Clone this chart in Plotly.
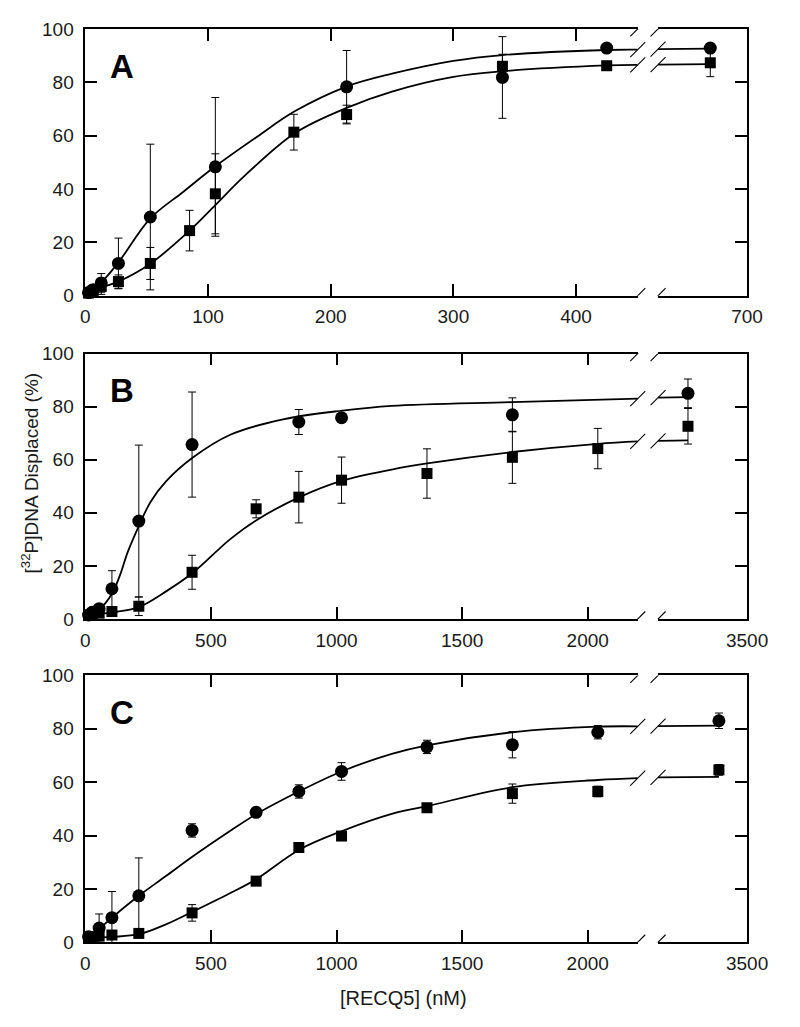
import plotly.graph_objects as go

# ---------------- DATA ----------------
# Panel A
a_circ_x = [2.6, 6.5, 13, 27, 53, 106, 213, 340, 425]
a_circ_y = [1.2, 2.2, 4.8, 12.1, 29.5, 48.3, 78.3, 81.8, 92.8]
a_circ_e = [1.0, 2.0, 3.5, 9.5, 27.3, 26.0, 13.6, 15.3, 0.0]
a_circ_rx = [670]
a_circ_ry = [92.8]
a_circ_re = [0.0]
a_sq_x = [2.6, 6.5, 13, 27, 53, 85, 106, 170, 213, 340, 425]
a_sq_y = [1.0, 2.0, 3.5, 5.3, 12.1, 24.4, 38.2, 61.3, 67.9, 86.0, 86.2]
a_sq_e = [1.0, 1.5, 3.0, 2.5, 6.0, 7.6, 15.0, 6.7, 3.5, 4.5, 0.0]
a_sq_rx = [670]
a_sq_ry = [87.3]
a_sq_re = [5.2]
a_circ_fit_x = [0, 13, 27, 53, 80, 106, 140, 171, 213, 250, 300, 340, 425, 450]
a_circ_fit_y = [0.5, 5.0, 12.5, 29.0, 39.0, 48.5, 59.6, 69.2, 78.4, 83.2, 88.0, 90.2, 92.1, 92.2]
a_circ_fit_rx = [627.4, 670]
a_circ_fit_ry = [92.4, 92.6]
a_sq_fit_x = [0, 13, 27, 53, 85, 106, 130, 171, 213, 250, 300, 340, 425, 450]
a_sq_fit_y = [0.5, 3.0, 5.3, 12.0, 24.4, 34.0, 45.0, 61.0, 70.4, 76.5, 82.0, 84.1, 86.3, 86.5]
a_sq_fit_rx = [627.4, 670]
a_sq_fit_ry = [86.6, 86.8]

# Panel B
b_circ_x = [13, 27, 55, 106, 213, 425, 850, 1020, 1700]
b_circ_y = [1.5, 2.5, 3.9, 11.4, 36.9, 65.7, 74.2, 75.8, 76.9]
b_circ_e = [0.5, 1.0, 1.5, 6.8, 28.6, 19.8, 4.7, 0.0, 6.4]
b_circ_rx = [3265]
b_circ_ry = [85.0]
b_circ_re = [5.4]
b_sq_x = [13, 27, 55, 106, 213, 425, 680, 850, 1020, 1360, 1700, 2040]
b_sq_y = [1.5, 1.8, 2.2, 2.8, 4.8, 17.6, 41.5, 45.9, 52.3, 54.8, 60.9, 64.2]
b_sq_e = [0.5, 0.5, 1.0, 1.0, 3.5, 6.4, 3.4, 9.7, 8.7, 9.3, 9.8, 7.6]
b_sq_rx = [3265]
b_sq_ry = [72.6]
b_sq_re = [6.7]
b_circ_fit_x = [0, 27, 55, 106, 140, 168, 213, 259, 323, 428, 577, 787, 1023, 1220, 1700, 2199]
b_circ_fit_y = [1.2, 2.0, 3.5, 9.5, 17.0, 25.0, 35.0, 44.0, 52.0, 60.8, 69.4, 75.2, 78.5, 80.3, 81.7, 83.0]
b_circ_fit_rx = [3146, 3265]
b_circ_fit_ry = [83.4, 83.6]
b_sq_fit_x = [0, 106, 213, 323, 428, 577, 686, 853, 1023, 1220, 1361, 1700, 2040, 2199]
b_sq_fit_y = [1.5, 2.5, 4.5, 10.5, 17.4, 30.1, 37.5, 45.9, 52.1, 56.3, 58.6, 62.9, 66.0, 66.9]
b_sq_fit_rx = [3146, 3265]
b_sq_fit_ry = [67.1, 67.3]

# Panel C
c_circ_x = [13, 27, 55, 106, 213, 425, 680, 850, 1020, 1360, 1700, 2040]
c_circ_y = [2.1, 1.8, 5.3, 9.2, 17.4, 41.9, 48.7, 56.5, 64.0, 73.2, 74.0, 78.7]
c_circ_e = [0.5, 0.5, 5.3, 9.8, 14.2, 2.5, 1.2, 2.5, 3.3, 2.5, 4.9, 2.5]
c_circ_rx = [3388]
c_circ_ry = [83.0]
c_circ_re = [2.9]
c_sq_x = [13, 27, 55, 106, 213, 425, 680, 850, 1020, 1360, 1700, 2040]
c_sq_y = [1.8, 1.5, 2.3, 2.7, 3.3, 11.0, 22.9, 35.5, 39.8, 50.4, 55.7, 56.5]
c_sq_e = [0.5, 0.5, 0.5, 0.5, 0.8, 3.1, 1.0, 1.0, 1.0, 1.0, 3.6, 2.0]
c_sq_rx = [3388]
c_sq_ry = [64.6]
c_sq_re = [2.0]
c_circ_fit_x = [0, 27, 55, 106, 213, 321, 430, 570, 680, 850, 1020, 1220, 1360, 1700, 2040, 2199]
c_circ_fit_y = [1.5, 3.0, 5.0, 9.2, 17.4, 24.8, 32.3, 41.3, 48.0, 56.5, 64.0, 70.6, 73.8, 78.7, 80.8, 80.9]
c_circ_fit_rx = [3146, 3388]
c_circ_fit_ry = [81.0, 81.2]
c_sq_fit_x = [0, 106, 213, 321, 430, 570, 680, 850, 1020, 1220, 1360, 1700, 2040, 2199]
c_sq_fit_y = [1.5, 2.0, 3.0, 6.7, 11.6, 18.1, 23.6, 34.6, 41.6, 48.1, 51.0, 58.1, 60.8, 61.5]
c_sq_fit_rx = [3146, 3388]
c_sq_fit_ry = [61.8, 62.0]

# Tick labels
a_ticks_left = [0, 100, 200, 300, 400]
a_ticks_right = [700]
bc_ticks_left = [0, 500, 1000, 1500, 2000]
bc_ticks_right = [3500]
y_ticks = [0, 20, 40, 60, 80, 100]
panel_labels = ["A", "B", "C"]
x_title = "[RECQ5] (nM)"
y_title = "[<sup>32</sup>P]DNA Displaced (%)"

# ---------------- LAYOUT GEOMETRY ----------------
W, H = 800, 1027
LEFT_PX, BREAK1_PX, BREAK2_PX, RIGHT_PX = 83, 654, 675, 767
panel_px = [(19.3, 291.7), (350.7, 621.7), (679.3, 951.7)]
ranges_left = [[0, 450.3], [0, 2199], [0, 2199]]
ranges_right = [[627.4, 700.001], [3146, 3500.01], [3146, 3500.01]]

FONT = "Liberation Sans, Arial, Helvetica, sans-serif"
TXT = "#1a1a1a"

fig = go.Figure()

panels = [
    dict(circ=(a_circ_x, a_circ_y, a_circ_e), circ_r=(a_circ_rx, a_circ_ry, a_circ_re),
         sq=(a_sq_x, a_sq_y, a_sq_e), sq_r=(a_sq_rx, a_sq_ry, a_sq_re),
         cfit=(a_circ_fit_x, a_circ_fit_y), cfit_r=(a_circ_fit_rx, a_circ_fit_ry),
         sfit=(a_sq_fit_x, a_sq_fit_y), sfit_r=(a_sq_fit_rx, a_sq_fit_ry),
         tl=a_ticks_left, tr=a_ticks_right),
    dict(circ=(b_circ_x, b_circ_y, b_circ_e), circ_r=(b_circ_rx, b_circ_ry, b_circ_re),
         sq=(b_sq_x, b_sq_y, b_sq_e), sq_r=(b_sq_rx, b_sq_ry, b_sq_re),
         cfit=(b_circ_fit_x, b_circ_fit_y), cfit_r=(b_circ_fit_rx, b_circ_fit_ry),
         sfit=(b_sq_fit_x, b_sq_fit_y), sfit_r=(b_sq_fit_rx, b_sq_fit_ry),
         tl=bc_ticks_left, tr=bc_ticks_right),
    dict(circ=(c_circ_x, c_circ_y, c_circ_e), circ_r=(c_circ_rx, c_circ_ry, c_circ_re),
         sq=(c_sq_x, c_sq_y, c_sq_e), sq_r=(c_sq_rx, c_sq_ry, c_sq_re),
         cfit=(c_circ_fit_x, c_circ_fit_y), cfit_r=(c_circ_fit_rx, c_circ_fit_ry),
         sfit=(c_sq_fit_x, c_sq_fit_y), sfit_r=(c_sq_fit_rx, c_sq_fit_ry),
         tl=bc_ticks_left, tr=bc_ticks_right),
]

layout = {}
shapes = []
annotations = []


def axname(n):
    return "" if n == 1 else str(n)


def fit_trace(x, y, xa, ya):
    return go.Scatter(x=x, y=y, xaxis=xa, yaxis=ya, mode="lines",
                      line=dict(color="black", width=1.8, shape="spline", smoothing=1.0),
                      hoverinfo="skip", showlegend=False, cliponaxis=False)


def mark_trace(x, y, e, xa, ya, symbol, size):
    return go.Scatter(x=x, y=y, xaxis=xa, yaxis=ya, mode="markers",
                      marker=dict(symbol=symbol, size=size, color="black"),
                      error_y=dict(type="data", array=e, visible=True, color="black",
                                   thickness=1, width=4),
                      showlegend=False, cliponaxis=False)


def slash(xpx, yref, yval):
    return dict(type="line", xref="paper", xsizemode="pixel", xanchor=xpx / W,
                x0=-7.5, x1=7.5, yref=yref, ysizemode="pixel", yanchor=yval,
                y0=-7.5, y1=7.5, line=dict(color="black", width=1.1))


for i, p in enumerate(panels):
    top_px, bot_px = panel_px[i]
    ydom = [1 - bot_px / H, 1 - top_px / H]
    nL, nR = 2 * i + 1, 2 * i + 2
    xL, xR = "x" + axname(nL), "x" + axname(nR)
    yL, yR = "y" + axname(nL), "y" + axname(nR)

    common_x = dict(showline=True, linecolor="black", linewidth=1.5, mirror="ticks",
                    ticks="inside", ticklen=12, tickwidth=1.5, tickcolor="black",
                    showgrid=False, zeroline=False,
                    tickfont=dict(family=FONT, size=19, color=TXT),
                    ticklabelstandoff=3)
    layout["xaxis" + axname(nL)] = dict(common_x, domain=[LEFT_PX / W, BREAK1_PX / W],
                                        range=ranges_left[i], tickvals=p["tl"], anchor=yL)
    layout["xaxis" + axname(nR)] = dict(common_x, domain=[BREAK2_PX / W, RIGHT_PX / W],
                                        range=ranges_right[i], tickvals=p["tr"], anchor=yL)
    common_y = dict(showline=True, linecolor="black", linewidth=1.5,
                    ticks="inside", ticklen=12, tickwidth=1.5, tickcolor="black",
                    showgrid=False, zeroline=False, domain=ydom, range=[0, 100],
                    tickvals=y_ticks,
                    tickfont=dict(family=FONT, size=19, color=TXT))
    layout["yaxis" + axname(nL)] = dict(common_y, anchor=xL, side="left",
                                        ticklabelstandoff=6)
    layout["yaxis" + axname(nR)] = dict(common_y, anchor=xR, side="right",
                                        overlaying=yL, showticklabels=False)

    # fitted curves
    fig.add_trace(fit_trace(*p["cfit"], xL, yL))
    fig.add_trace(fit_trace(*p["sfit"], xL, yL))
    fig.add_trace(fit_trace(*p["cfit_r"], xR, yR))
    fig.add_trace(fit_trace(*p["sfit_r"], xR, yR))
    # data points
    fig.add_trace(mark_trace(*p["circ"], xL, yL, "circle", 13))
    fig.add_trace(mark_trace(*p["sq"], xL, yL, "square", 11))
    fig.add_trace(mark_trace(*p["circ_r"], xR, yR, "circle", 13))
    fig.add_trace(mark_trace(*p["sq_r"], xR, yR, "square", 11))

    # axis-break slashes on frame and curves
    for yv in (0, 100):
        shapes.append(slash(BREAK1_PX, yL, yv))
        shapes.append(slash(BREAK2_PX, yL, yv))
    for fit in ("cfit", "sfit"):
        shapes.append(slash(BREAK1_PX, yL, p[fit][1][-1]))
    for fit in ("cfit_r", "sfit_r"):
        shapes.append(slash(BREAK2_PX, yL, p[fit][1][0]))

    # panel letter
    annotations.append(dict(text=panel_labels[i], xref="paper", yref="paper",
                            x=121 / W, y=1 - (top_px + 38) / H,
                            showarrow=False, xanchor="center", yanchor="middle",
                            font=dict(family=FONT, size=33, color="black", weight="bold")))

annotations.append(dict(text=y_title, xref="paper", yref="paper", x=26 / W, y=1 - 473 / H,
                        textangle=-90, showarrow=False, xanchor="center", yanchor="middle",
                        font=dict(family=FONT, size=19, color=TXT)))
annotations.append(dict(text=x_title, xref="paper", yref="paper", x=412 / W, y=1 - 1009 / H,
                        showarrow=False, xanchor="center", yanchor="middle",
                        font=dict(family=FONT, size=20, color=TXT)))

fig.update_layout(width=W, height=H, margin=dict(l=0, r=0, t=0, b=0),
                  paper_bgcolor="white", plot_bgcolor="white",
                  shapes=shapes, annotations=annotations, showlegend=False,
                  **layout)

fig.write_html("out.html", config={"displayModeBar": False},
               post_script="document.body.style.margin='0';document.body.style.overflow='hidden';")
